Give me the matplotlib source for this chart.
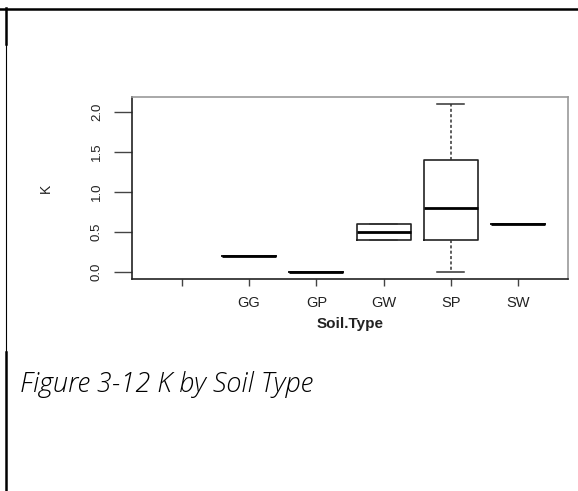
import matplotlib
matplotlib.use("Agg")
import matplotlib.pyplot as plt
from matplotlib.lines import Line2D

# data
soil_types = ["", "GG", "GP", "GW", "SP", "SW"]
k_low = [None, 0.2, 0.0, 0.4, 0.0, 0.6]
k_q1 = [None, 0.2, 0.0, 0.4, 0.4, 0.6]
k_med = [None, 0.2, 0.0, 0.5, 0.8, 0.6]
k_q3 = [None, 0.2, 0.0, 0.6, 1.4, 0.6]
k_high = [None, 0.2, 0.0, 0.6, 2.1, 0.6]
y_ticks = [0.0, 0.5, 1.0, 1.5, 2.0]

W, H = 578, 491
fig = plt.figure(figsize=(W / 100, H / 100), dpi=100)
ax = fig.add_axes([132 / W, 1 - 279 / H, 436 / W, 182 / H])

stats = []
pos = []
for i, name in enumerate(soil_types):
  if k_med[i] is None:
    continue
  stats.append(dict(label=name, whislo=k_low[i], q1=k_q1[i], med=k_med[i],
                    q3=k_q3[i], whishi=k_high[i], fliers=[]))
  pos.append(i + 1)

ax.bxp(stats, positions=pos, widths=0.8, capwidths=0.4, showfliers=False,
       boxprops=dict(color="#222222", linewidth=1.2),
       medianprops=dict(color="black", linewidth=2.0),
       whiskerprops=dict(color="#333333", linewidth=1.1, linestyle=(0, (2, 1.5))),
       capprops=dict(color="#333333", linewidth=1.1))

ax.set_xlim(0.26, 6.74)
ax.set_ylim(-0.084, 2.184)
ax.set_xticks(range(1, len(soil_types) + 1))
ax.set_xticklabels(soil_types)
ax.set_yticks(y_ticks)
ax.set_yticklabels([f"{v:.1f}" for v in y_ticks], rotation=90, va="center")

for t in ax.get_xticklabels():
  t.set_fontfamily("Liberation Sans")
  t.set_fontsize(10.5)
  t.set_color("#222222")
for t in ax.get_yticklabels():
  t.set_fontfamily("Liberation Sans")
  t.set_fontsize(9.5)
  t.set_color("#222222")
ax.tick_params(axis="x", length=5, width=1, color="#444444", pad=7)
ax.tick_params(axis="y", length=13, width=1, color="#444444", pad=8)

ax.set_xlabel("Soil.Type", labelpad=5, family="Liberation Sans", size=11,
              weight="bold", color="#222222")
ax.set_ylabel("K", labelpad=27, family="Liberation Sans", size=10,
              color="#222222")

for s in ["top", "right"]:
  ax.spines[s].set_color("#999999")
  ax.spines[s].set_linewidth(1.2)
for s in ["left", "bottom"]:
  ax.spines[s].set_color("#222222")
  ax.spines[s].set_linewidth(1.2)

# page border pieces around the figure
fig.add_artist(Line2D([0, 1], [1 - 8.5 / H] * 2, color="black", linewidth=1.8, transform=fig.transFigure))
fig.add_artist(Line2D([6 / W] * 2, [1 - 8 / H, 1 - 44 / H], color="black", linewidth=1.8, transform=fig.transFigure))
fig.add_artist(Line2D([6 / W] * 2, [1 - 44 / H, 1 - 352 / H], color="black", linewidth=0.8, transform=fig.transFigure))
fig.add_artist(Line2D([5.5 / W] * 2, [1 - 352 / H, 0], color="black", linewidth=1.8, transform=fig.transFigure))

fig.text(20 / W, 1 - 385 / H, "Figure 3-12 K by Soil Type", family="Open Sans",
         style="italic", weight="light", fontsize=19.5, color="#000000",
         va="center", ha="left")

fig.savefig("out.png", dpi=100)
